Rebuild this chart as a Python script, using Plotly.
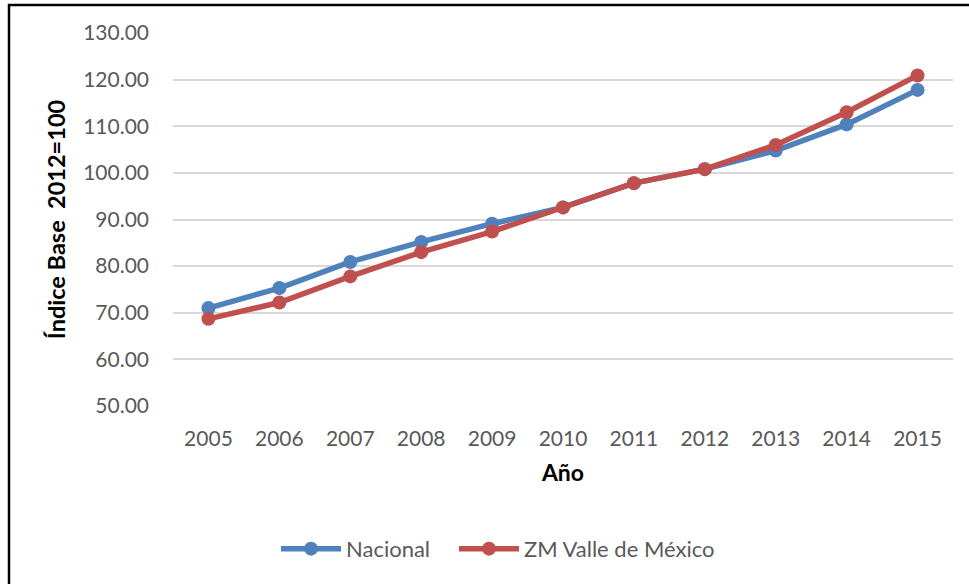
import plotly.graph_objects as go

# Índice base 2012=100
anios = ["2005", "2006", "2007", "2008", "2009", "2010", "2011", "2012", "2013", "2014", "2015"]
nacional = [71.0, 75.3, 80.9, 85.2, 89.1, 92.6, 97.8, 100.8, 104.8, 110.4, 117.8]
zm_valle = [68.7, 72.2, 77.8, 83.0, 87.4, 92.6, 97.8, 100.8, 106.0, 113.0, 120.9]
y_ticks = [50, 60, 70, 80, 90, 100, 110, 120, 130]

W, H = 969, 584
L, R, T, B = 173, 16, 33, 178
pw, ph = W - L - R, H - T - B

fig = go.Figure()
fig.add_trace(go.Scatter(
    x=anios, y=nacional, name="Nacional", mode="lines+markers",
    line=dict(color="#4F81BD", width=5.5), marker=dict(size=14, color="#4F81BD"),
    legend="legend",
))
fig.add_trace(go.Scatter(
    x=anios, y=zm_valle, name="ZM Valle de México", mode="lines+markers",
    line=dict(color="#C0504D", width=5.5), marker=dict(size=14, color="#C0504D"),
    legend="legend2",
))

font = "Lato, 'Open Sans', sans-serif"
legend_common = dict(
    orientation="h", xanchor="left", y=-0.383, yanchor="middle",
    font=dict(size=22, color="#595959"), itemwidth=60,
    bgcolor="rgba(0,0,0,0)",
)

fig.update_layout(
    width=W, height=H,
    margin=dict(l=L, r=R, t=T, b=B, pad=0),
    paper_bgcolor="white", plot_bgcolor="white",
    font=dict(family=font, color="#595959", size=21),
    showlegend=True,
    legend=dict(x=(276 - L) / pw, **legend_common),
    legend2=dict(x=(454 - L) / pw, **legend_common),
    xaxis=dict(
        type="category", range=[-0.5, len(anios) - 0.5],
        showgrid=False, zeroline=False, showline=False,
        ticks="", ticklabelstandoff=18, tickfont=dict(size=21, color="#595959"),
        title=dict(text="<b>Año</b>", font=dict(size=23, color="black"), standoff=15),
    ),
    yaxis=dict(
        range=[50, 130], tickvals=y_ticks,
        ticktext=[f"{v:.2f}" for v in y_ticks],
        showgrid=True, gridcolor="#D9D9D9", gridwidth=2, zeroline=False,
        showline=False, ticks="", ticklabelstandoff=23,
        tickfont=dict(size=21, color="#595959"),
        title=dict(text="<b>Índice Base  2012=100</b>", font=dict(size=23.5, color="black"), standoff=10),
    ),
)

# chart frame (right and bottom edges fall outside the page)
fig.add_shape(
    type="rect", xref="paper", yref="paper",
    x0=(9 - L) / pw, x1=(W + 20 - L) / pw,
    y0=-(H + 20 - T - ph) / ph,
    y1=(T + ph - 5) / ph,
    line=dict(color="black", width=2.5), fillcolor="rgba(0,0,0,0)", layer="above",
)

fig.write_html("out.html")
